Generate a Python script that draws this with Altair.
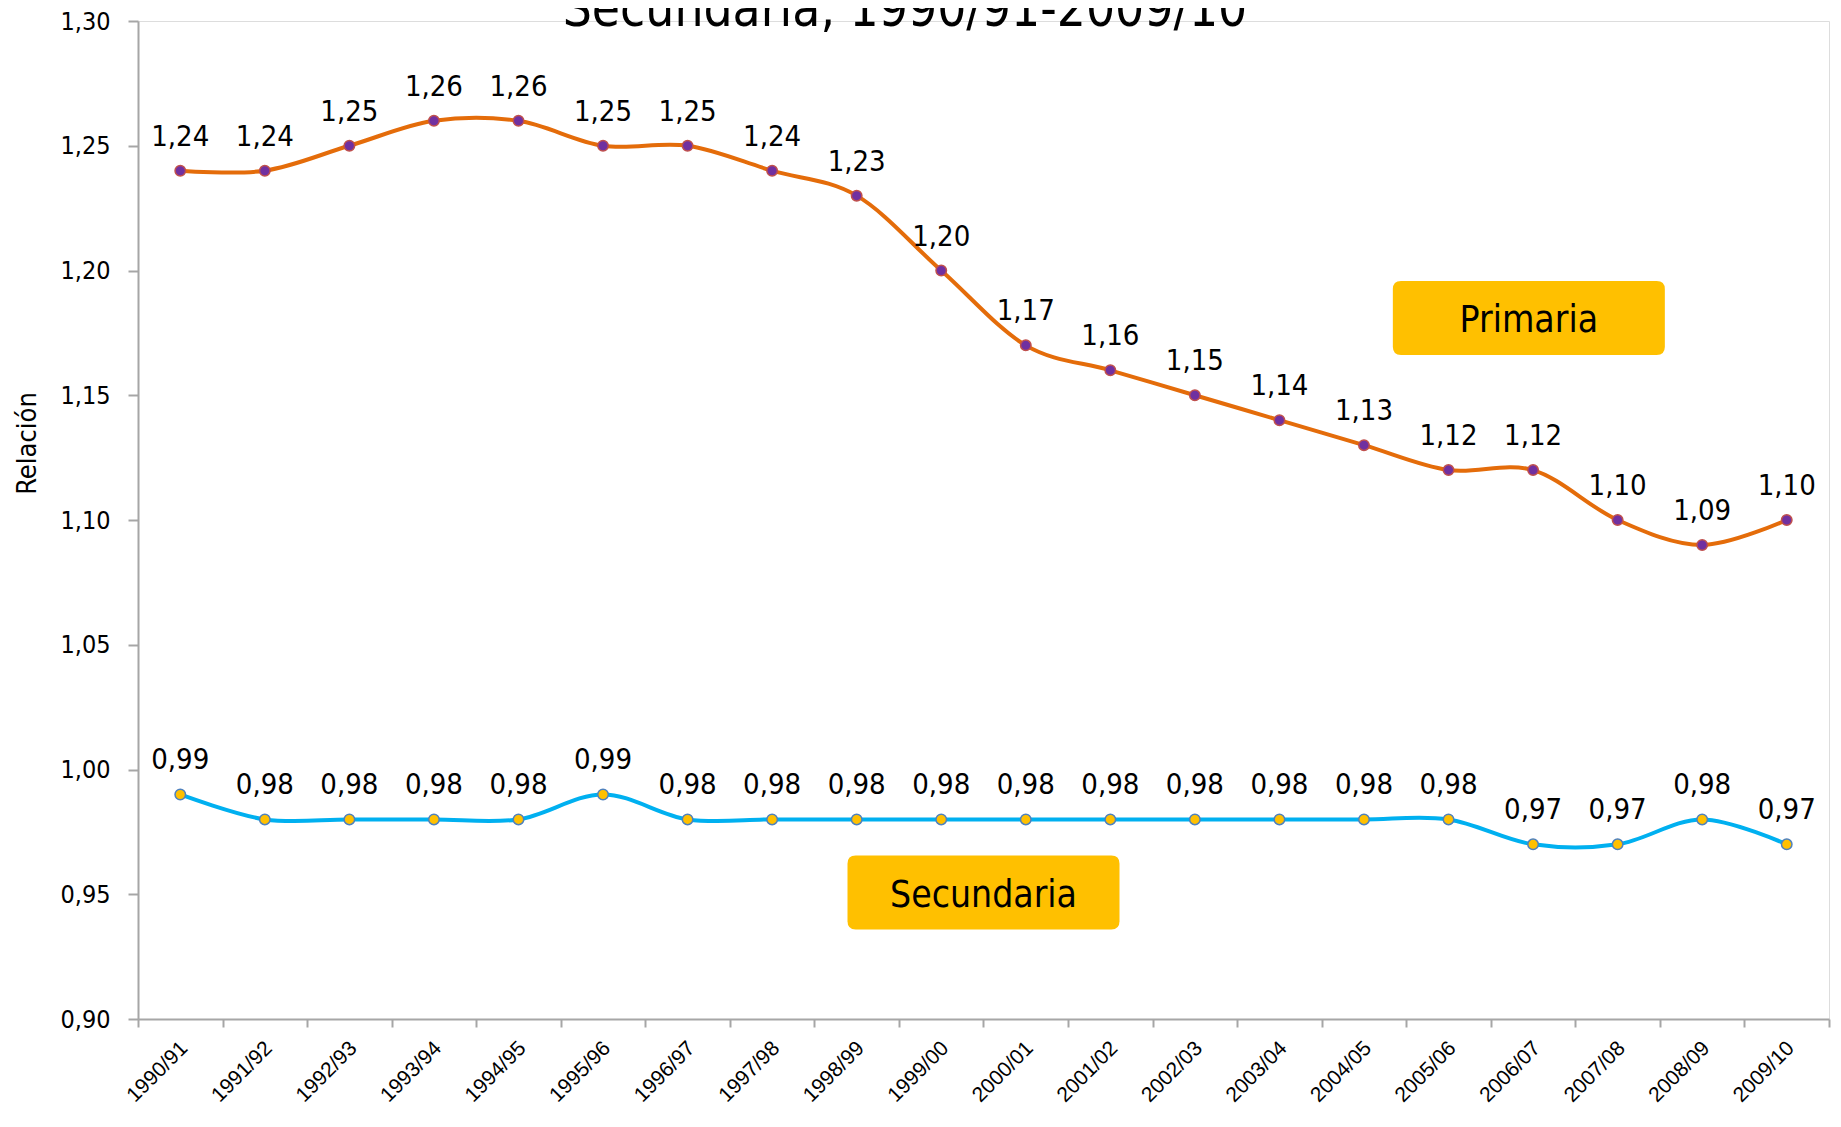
import altair as alt
import pandas as pd

years = ["1990/91", "1991/92", "1992/93", "1993/94", "1994/95", "1995/96", "1996/97",
         "1997/98", "1998/99", "1999/00", "2000/01", "2001/02", "2002/03", "2003/04",
         "2004/05", "2005/06", "2006/07", "2007/08", "2008/09", "2009/10"]
primaria = [1.24, 1.24, 1.25, 1.26, 1.26, 1.25, 1.25, 1.24, 1.23, 1.20,
            1.17, 1.16, 1.15, 1.14, 1.13, 1.12, 1.12, 1.10, 1.09, 1.10]
secundaria = [0.99, 0.98, 0.98, 0.98, 0.98, 0.99, 0.98, 0.98, 0.98, 0.98,
              0.98, 0.98, 0.98, 0.98, 0.98, 0.98, 0.97, 0.97, 0.98, 0.97]
series = ["Primaria", "Secundaria"]
y_ticks = [0.90, 0.95, 1.00, 1.05, 1.10, 1.15, 1.20, 1.25, 1.30]
title_text = "Secundaria, 1990/91-2009/10"

# annotation anchors (category, value)
ann_names = ["Primaria", "Secundaria"]
ann_cat = ["2006/07", "2000/01"]
ann_val = [1.181, 0.9507]

NARROW = "Liberation Sans Narrow, DejaVu Sans Condensed, Roboto, sans-serif"
AXIS_GREY = "#A6A6A6"

rows = []
for c, p, s in zip(years, primaria, secundaria):
    rows.append({"curso": c, "serie": "Primaria", "valor": p,
                 "etiqueta": f"{p:.2f}".replace(".", ",")})
    rows.append({"curso": c, "serie": "Secundaria", "valor": s,
                 "etiqueta": f"{s:.2f}".replace(".", ",")})
df = pd.DataFrame(rows)


def make_x(bp=0.5):
    return alt.X(
        "curso:N", sort=years, bandPosition=bp,
        scale=alt.Scale(type="band", paddingInner=0, paddingOuter=0),
        axis=alt.Axis(title=None, labelAngle=-45, tickBand="extent", tickSize=8,
                      labelPadding=10, labelOffset=-4, labelFontSize=21,
                      labelFont="Liberation Sans",
                      labelColor="black", domainColor=AXIS_GREY, tickColor=AXIS_GREY,
                      domainWidth=2, tickWidth=2, labelOverlap=False, grid=False),
    )


y_enc = alt.Y(
    "valor:Q",
    scale=alt.Scale(domain=[0.90, 1.30], nice=False, zero=False),
    axis=alt.Axis(values=y_ticks, grid=False,
                  labelExpr="replace(format(datum.value, '.2f'), '.', ',')",
                  title="Relación", titleFont=NARROW, titleFontSize=27,
                  titleFontWeight="normal", titleColor="black",
                  titleX=-103, titleY=422, titleBaseline="alphabetic", titleAngle=-90,
                  tickSize=10, labelPadding=18, labelFontSize=25, labelFont=NARROW,
                  labelColor="black", domainColor=AXIS_GREY, tickColor=AXIS_GREY,
                  domainWidth=2, tickWidth=2),
)

base = alt.Chart(df)

lines = base.mark_line(interpolate="cardinal", strokeWidth=4).encode(
    x=make_x(), y=y_enc,
    color=alt.Color("serie:N", scale=alt.Scale(domain=series, range=["#E46C0A", "#00B0F0"]),
                    legend=None),
    detail="serie:N",
)

points = base.mark_circle(size=110, opacity=1, strokeWidth=1.5).encode(
    x=make_x(), y=y_enc,
    fill=alt.Fill("serie:N", scale=alt.Scale(domain=series, range=["#7030A0", "#FFC000"]),
                  legend=None),
    stroke=alt.Stroke("serie:N", scale=alt.Scale(domain=series, range=["#C0504D", "#4F81BD"]),
                      legend=None),
)

labels = base.mark_text(dy=-25, fontSize=29, font=NARROW, baseline="alphabetic",
                        color="black").encode(
    x=make_x(), y=y_enc, text="etiqueta:N",
)

ann = pd.DataFrame({"nombre": ann_names, "curso": ann_cat, "valor": ann_val})
box_path = ("M-0.94,-0.272 L0.94,-0.272 Q1,-0.272 1,-0.212 L1,0.212 Q1,0.272 0.94,0.272 "
            "L-0.94,0.272 Q-1,0.272 -1,0.212 L-1,-0.212 Q-1,-0.272 -0.94,-0.272 Z")

layers = [lines, points, labels]
for name, bp in zip(ann_names, [0.45, 0.0]):
    sub = alt.Chart(ann).transform_filter(alt.datum.nombre == name)
    layers.append(sub.mark_point(shape=box_path, size=73984, filled=True, opacity=1,
                                 fill="#FFC000", strokeWidth=0).encode(
        x=make_x(bp), y=y_enc))
    layers.append(sub.mark_text(fontSize=37, font=NARROW, baseline="alphabetic", dy=14,
                                color="black").encode(
        x=make_x(bp), y=y_enc, text="nombre:N"))

title_layer = alt.Chart(pd.DataFrame({"t": [title_text]})).mark_text(
    fontSize=51, font=NARROW, baseline="alphabetic", align="center", color="black"
).encode(x=alt.value(767), y=alt.value(5), text="t:N")
layers.append(title_layer)

chart = alt.layer(*layers).properties(
    width=1691, height=998,
    autosize=alt.AutoSizeParams(type="none"),
    padding={"left": 130, "top": 13, "right": 2, "bottom": 95},
).configure_view(stroke=None).configure(background="white")

chart.save("out.html", embed_options={"renderer": "svg", "actions": False})
